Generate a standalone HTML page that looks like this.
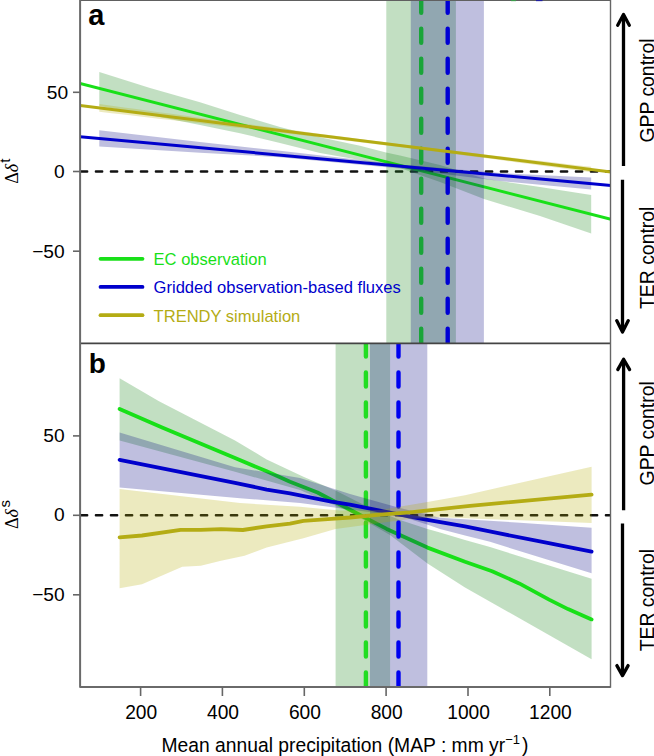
<!DOCTYPE html>
<html><head><meta charset="utf-8"><style>
html,body{margin:0;padding:0;background:#fff;width:654px;height:756px;overflow:hidden}
svg{display:block}

</style></head><body>
<svg width="654" height="756" viewBox="0 0 654 756">
<defs>
<clipPath id="ca"><rect x="80" y="0" width="530.5" height="343.4"/></clipPath>
<clipPath id="cb"><rect x="80" y="343.4" width="530.5" height="343.6"/></clipPath>
</defs>
<rect width="654" height="756" fill="#fff"/>
<!-- panel a -->
<g clip-path="url(#ca)">
<line x1="80.9" y1="171.5" x2="612" y2="171.5" stroke="#111" stroke-width="2.4" stroke-dasharray="6.3 8.7" stroke-linecap="round"/>
<polygon points="99.3,71.9 150,87.9 200,102.2 240,114.9 280,127 320,137.2 360,145.8 386,152.5 400,155.5 440,165 484,178.5 540,187 591.2,195 591.2,233.6 540,216 484,199 440,182 400,168 386,165.4 360,160 320,153.1 280,143 240,133.2 200,125 150,115 99.3,106" fill="rgba(34,139,34,0.275)"/>
<line x1="80" y1="83.5" x2="611" y2="219.4" stroke="#18e018" stroke-width="3"/>
<rect x="386.3" y="0" width="69.6" height="344" fill="rgba(34,139,34,0.275)"/>
<line x1="421.2" y1="-1.3" x2="421.2" y2="343" stroke="#22dd22" stroke-width="4.4" stroke-dasharray="14 16" stroke-linecap="round"/>
<polygon points="99.3,130.3 200,142 280,150.8 400,164.5 500,173 591.2,177.6 591.2,189.5 500,181 400,168.5 280,157.2 200,152.7 99.3,146.6" fill="rgba(0,0,128,0.25)"/>
<rect x="410.8" y="0" width="73.1" height="344" fill="rgba(0,0,128,0.25)"/>
<line x1="80" y1="136.7" x2="611" y2="185.4" stroke="#0000cc" stroke-width="3"/>
<line x1="447.7" y1="-1.3" x2="447.7" y2="343" stroke="#0000d4" stroke-width="4.4" stroke-dasharray="14 16" stroke-linecap="round"/>
<polygon points="99.3,104 111.6,105.7 123.9,107.4 136.2,109 148.5,110.7 160.8,112.4 173.1,114.1 185.4,115.7 197.7,117.4 210,119.1 222.3,120.7 234.6,122.4 246.9,124 259.2,125.7 271.5,127.3 283.8,129 296.1,130.6 308.4,132.3 320.7,133.9 333,135.5 345.2,137.1 357.5,138.7 369.8,140.3 382.1,141.8 394.4,143.4 406.7,144.9 419,146.5 431.3,148 443.6,149.5 455.9,151 468.2,152.4 480.5,153.9 492.8,155.4 505.1,156.8 517.4,158.3 529.7,159.7 542,161.1 554.3,162.5 566.6,164 578.9,165.4 591.2,166.8 591.2,172.3 578.9,170.6 566.6,169 554.3,167.3 542,165.7 529.7,164 517.4,162.4 505.1,160.7 492.8,159.1 480.5,157.5 468.2,155.9 455.9,154.2 443.6,152.7 431.3,151.1 419,149.5 406.7,147.9 394.4,146.4 382.1,144.9 369.8,143.4 357.5,141.9 345.2,140.4 333,138.9 320.7,137.4 308.4,136 296.1,134.5 283.8,133.1 271.5,131.6 259.2,130.2 246.9,128.8 234.6,127.4 222.3,125.9 210,124.5 197.7,123.1 185.4,121.7 173.1,120.3 160.8,118.9 148.5,117.5 136.2,116 123.9,114.6 111.6,113.2 99.3,111.8" fill="rgba(180,170,0,0.25)"/>
<line x1="80" y1="105.5" x2="611" y2="172" stroke="#b4ac14" stroke-width="3"/>
</g>
<!-- panel b -->
<g clip-path="url(#cb)">
<line x1="80.9" y1="515.3" x2="612" y2="515.3" stroke="#111" stroke-width="2.4" stroke-dasharray="6.3 8.7" stroke-linecap="round"/>
<polygon points="119.6,378.3 159,401.2 235,440.6 266.7,459.4 303.4,476.8 335.5,490.6 370,508 400,520 427.5,529 440,532.5 465,540 490,547 591.6,578.8 591.6,659.3 465,587.4 427.5,563.5 390,535 350,512 300,490 235,471.8 119.6,440.6" fill="rgba(34,139,34,0.275)"/>
<polyline points="119.6,408.9 162.7,427.8 235,458.1 266.7,471.3 290,481.7 317.5,492.5 350,509.7 386.7,528.9 427.5,547.6 465,561.7 492.1,571.2 519.2,583.4 549.1,599.6 568,609.1 591.6,619.4" fill="none" stroke="#18e018" stroke-width="3.8" stroke-linejoin="round" stroke-linecap="round"/>
<rect x="335.6" y="343" width="54.5" height="344" fill="rgba(34,139,34,0.275)"/>
<line x1="365.9" y1="342.5" x2="365.9" y2="690" stroke="#22dd22" stroke-width="4.4" stroke-dasharray="14 16" stroke-linecap="round"/>
<polygon points="119.6,432.4 235,467.2 300,478 350,494 400,508 440,517.8 520,522.7 591.6,527.8 591.6,573.3 490,541.8 465,535.5 440,528.9 427,524.6 400,516 340,508.3 300,502.9 240,498.3 119.6,487.4" fill="rgba(0,0,128,0.25)"/>
<polyline points="119.6,459.9 235,482.8 266.7,489.6 290,493.4 331.3,501.6 350,504.6 377.5,510.1 410,516.6 427.5,519.8 465,526.4 492.1,531.9 546.3,542.7 591.6,551.6" fill="none" stroke="#0000cc" stroke-width="3.8" stroke-linejoin="round" stroke-linecap="round"/>
<rect x="370" y="343" width="57.3" height="344" fill="rgba(0,0,128,0.25)"/>
<line x1="398.5" y1="342.5" x2="398.5" y2="690" stroke="#0000f0" stroke-width="4.4" stroke-dasharray="14 16" stroke-linecap="round"/>
<polygon points="119.6,488.9 240,503 300,506.8 340,510.6 380,510 427.5,501.9 465,495.2 591.6,466.8 591.6,522.9 520,520.3 440,517.2 410,519 380,523 335.5,529.1 303.4,538.3 266.7,547.4 244.5,555.7 221,560.7 200.8,565.8 182.3,566.8 142,584.3 119.6,588.3" fill="rgba(180,170,0,0.25)"/>
<polyline points="119.6,537.4 142,535.5 180.6,529.8 200.8,529.8 221,529.1 242.8,530 266.7,526.3 290,523.6 303.4,520.8 331.3,518.8 350,517.5 380,514.7 410,512.4 470,505.8 591.6,494.7" fill="none" stroke="#b4ac14" stroke-width="3.8" stroke-linejoin="round" stroke-linecap="round"/>
</g>
<!-- frames -->
<g fill="none">
<line x1="80" y1="0.4" x2="610.5" y2="0.4" stroke="#606060" stroke-width="1.3"/>
<line x1="511" y1="0.5" x2="516" y2="0.5" stroke="#3c9c4c" stroke-width="1.3"/>
<line x1="536" y1="0.5" x2="542.5" y2="0.5" stroke="#2020a0" stroke-width="1.3"/>
<line x1="80" y1="343.4" x2="610.5" y2="343.4" stroke="#444" stroke-width="1.6"/>
<path d="M80.1,0 V686.9 H610.5" stroke="#6a6a6a" stroke-width="2" stroke-linejoin="round"/>
<line x1="610.5" y1="0" x2="610.5" y2="687.8" stroke="#666" stroke-width="1.4"/>
<g stroke="#666" stroke-width="1.6">
<line x1="73" y1="92.3" x2="80" y2="92.3"/><line x1="73" y1="171.5" x2="80" y2="171.5"/><line x1="73" y1="251.2" x2="80" y2="251.2"/>
<line x1="73" y1="435.9" x2="80" y2="435.9"/><line x1="73" y1="515.3" x2="80" y2="515.3"/><line x1="73" y1="594.8" x2="80" y2="594.8"/>
<line x1="140.6" y1="687" x2="140.6" y2="696"/><line x1="222.4" y1="687" x2="222.4" y2="696"/><line x1="304.3" y1="687" x2="304.3" y2="696"/><line x1="386.1" y1="687" x2="386.1" y2="696"/><line x1="468" y1="687" x2="468" y2="696"/><line x1="549.8" y1="687" x2="549.8" y2="696"/></g></g>
<g stroke="#000" stroke-width="3.3" fill="none" stroke-linecap="round" stroke-linejoin="round">
<path d="M623.5,166 V15" stroke-linecap="butt"/><path d="M617.7,25.3 L623.5,14.5 L629.3,25.3"/>
<path d="M622.5,179.8 V331" stroke-linecap="butt"/><path d="M616.7,320.6 L622.5,332 L628.3,320.6"/>
<path d="M623.6,510.2 V360" stroke-linecap="butt"/><path d="M617.8,369.6 L623.6,359.2 L629.6,369.6"/>
<path d="M622.5,523.6 V675" stroke-linecap="butt"/><path d="M616.9,665.6 L622.5,675.6 L628.1,665.6"/>
</g>
<g stroke-width="3.8" stroke-linecap="round">
<line x1="100.5" y1="258.8" x2="142.5" y2="258.8" stroke="#18e018"/>
<line x1="100.5" y1="286.9" x2="142.5" y2="286.9" stroke="#0000cc"/>
<line x1="100.5" y1="315.2" x2="142.5" y2="315.2" stroke="#b4ac14"/>
</g>
<g font-family="'Liberation Sans', sans-serif" font-size="16.55">
<text x="153.6" y="264.9" fill="#18e018">EC observation</text>
<text x="153.6" y="292.8" fill="#0000cc">Gridded observation-based fluxes</text>
<text x="153.6" y="321.6" fill="#b4ac14">TRENDY simulation</text>
</g>
<g font-family="'Liberation Sans', sans-serif" font-size="19.2" fill="#000">
<text x="68.2" y="99" text-anchor="end">50</text>
<text x="64.7" y="178.3" text-anchor="end">0</text>
<text x="64.7" y="257.5" text-anchor="end">−50</text>
<text x="64.7" y="442" text-anchor="end">50</text>
<text x="64.7" y="521" text-anchor="end">0</text>
<text x="64.7" y="601" text-anchor="end">−50</text>
<text transform="translate(141.2,718.6) scale(1,1.08)" text-anchor="middle">200</text>
<text transform="translate(223,718.6) scale(1,1.08)" text-anchor="middle">400</text>
<text transform="translate(304.9,718.6) scale(1,1.08)" text-anchor="middle">600</text>
<text transform="translate(386.7,718.6) scale(1,1.08)" text-anchor="middle">800</text>
<text transform="translate(468.6,718.6) scale(1,1.08)" text-anchor="middle">1000</text>
<text transform="translate(550.4,718.6) scale(1,1.08)" text-anchor="middle">1200</text>
</g>
<text x="161.5" y="751.6" font-family="'Liberation Sans', sans-serif" font-size="19.3">Mean annual precipitation (MAP : mm yr<tspan font-size="13" dy="-8">−1</tspan><tspan dx="2" dy="8">)</tspan></text>
<g font-family="'Liberation Sans', sans-serif" font-weight="bold" font-size="29">
<text x="88.3" y="25">a</text>
<text x="88.8" y="373.4" font-size="28">b</text>
</g>
<g font-family="'Liberation Sans', sans-serif" font-size="19.4" fill="#000">
<text transform="translate(653.6,142.6) rotate(-90)">GPP control</text>
<text transform="translate(653.6,309) rotate(-90)">TER control</text>
<text transform="translate(653.6,485.4) rotate(-90)">GPP control</text>
<text transform="translate(653.6,651.3) rotate(-90)">TER control</text>
</g>
<g fill="#000">
<text transform="translate(18,183.8) rotate(-90)" font-family="'Liberation Serif', serif" font-size="18">Δ<tspan font-style="italic">δ</tspan><tspan font-family="'Liberation Sans', sans-serif" font-size="15" dx="1" dy="-8.2">t</tspan></text>
<text transform="translate(18,529) rotate(-90)" font-family="'Liberation Serif', serif" font-size="18">Δ<tspan font-style="italic">δ</tspan><tspan font-family="'Liberation Sans', sans-serif" font-size="15" dx="1.5" dy="-8.2">s</tspan></text>
</g>
</svg>
</body></html>
